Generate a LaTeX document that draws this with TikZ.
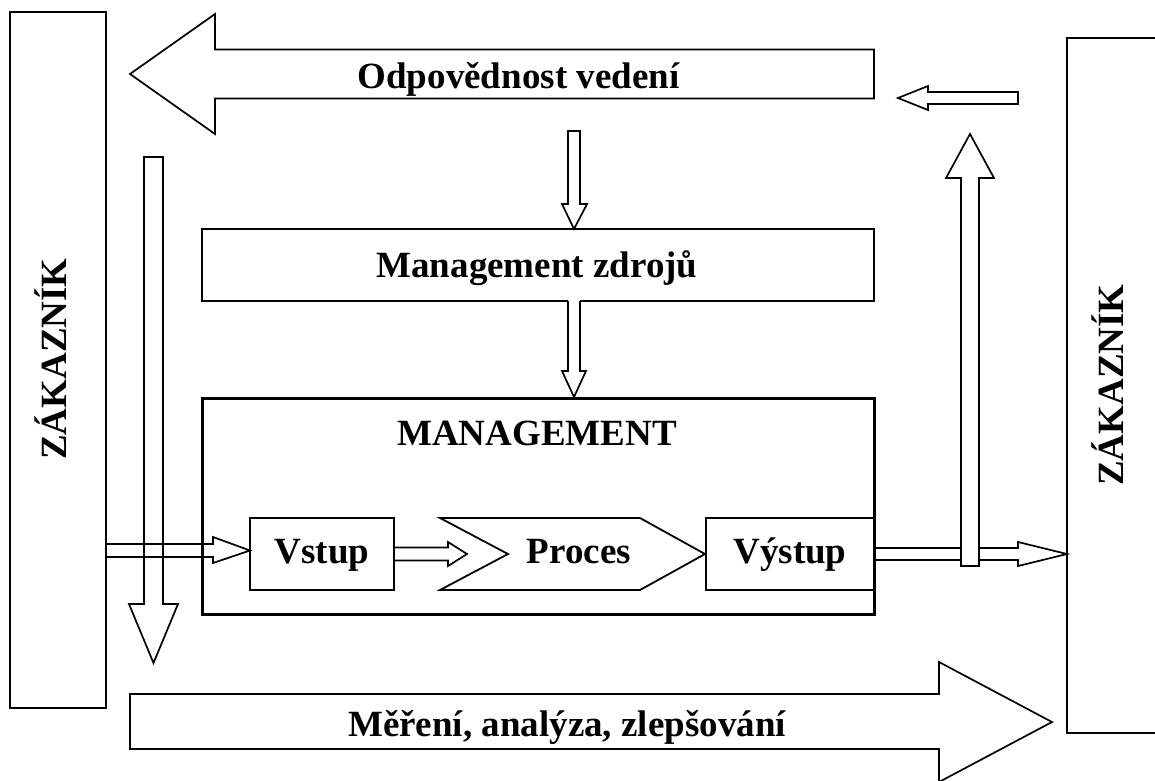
\documentclass[tikz,border=0pt]{standalone}
\usepackage{fontspec}
\setmainfont{Liberation Serif}
\begin{document}
\begin{tikzpicture}[x=1pt,y=-1pt,line join=miter,
  lbl/.style={font=\fontsize{37}{44}\selectfont\bfseries,inner sep=0pt,anchor=base},
  box/.style={draw,line width=1.8pt,inner sep=0pt},
  thickbox/.style={draw,line width=3pt,inner sep=0pt},
  barrow/.style={draw,line width=1.7pt,fill=white},
  openarrow/.style={draw,line width=1.7pt}]
\clip (0,0) rectangle (1155,780);

% customer columns
\node[box,minimum width=96pt,minimum height=696pt] (custL) at (58,360) {};
\node[box,minimum width=110pt,minimum height=695pt] (custR) at (1122,385.5) {};

% management responsibility arrow (pointing left)
\draw[barrow] (874,49.5) -- (215,49.5) -- (215,14) -- (130,74) -- (215,134)
  -- (215,98.5) -- (874,98.5) -- cycle;
% feedback arrow from the right
\draw[barrow] (1018,92) -- (928,92) -- (928,86) -- (898,98) -- (928,110)
  -- (928,104) -- (1018,104) -- cycle;

% resource management and the process frame
\node[box,minimum width=672pt,minimum height=72pt] (res) at (538,265) {};
\node[thickbox,minimum width=672pt,minimum height=216pt] (mgmt) at (538,506) {};

% responsibility -> resources
\draw[barrow] (568,131) -- (568,204) -- (562,204) -- (574,229) -- (587,204)
  -- (580,204) -- (580,131) -- cycle;
% resources -> management
\fill[white] (568,298.5) rectangle (580,372);
\draw[openarrow] (568,301) -- (568,371) -- (562,371) -- (574,397) -- (586,371)
  -- (580,371) -- (580,301);

% input, process, output
\node[box,minimum width=144pt,minimum height=72pt] (in) at (322,554) {};
\draw[line width=1.8pt] (440,518) -- (640,518) -- (705,554) -- (640,590)
  -- (440,590) -- (508,554) -- cycle;
\coordinate (proc) at (579,554);
\node[box,minimum width=168pt,minimum height=72pt] (out) at (790,554) {};

% customer requirements -> input
\draw[openarrow] (106,544) -- (213,544) -- (213,537) -- (250,550.5) -- (213,563)
  -- (213,557) -- (106,557);
% left downward arrow
\draw[openarrow] (144,157) -- (144,604) -- (129,604) -- (153.5,663) -- (178,604)
  -- (163,604) -- (163,157) -- cycle;
% input -> process
\draw[openarrow] (394,547.5) -- (448,547.5) -- (448,542) -- (467,554) -- (448,566)
  -- (448,560.5) -- (394,560.5);
% output -> customer
\draw[openarrow] (874,548) -- (1018,548) -- (1018,542) -- (1067,554) -- (1018,566)
  -- (1018,560) -- (874,560);
% upward arrow on the right
\draw[barrow] (961,566) -- (961,178) -- (946,178) -- (970,134) -- (994,178)
  -- (979,178) -- (979,566) -- cycle;

% measurement, analysis, improvement
\draw[barrow] (130,694) -- (939,694) -- (939,662) -- (1052,722) -- (939,782)
  -- (939,749) -- (130,749) -- cycle;

% labels
\node[lbl] (tResp) at (518.5,88) {Odpovědnost vedení};
\node[lbl] (tRes) at (537,277) {Management zdrojů};
\node[lbl] (tMgmt) at (537,445) {MANAGEMENT};
\node[lbl] (tIn) at (322,563) {Vstup};
\node[lbl] (tProc) at (579,563) {Proces};
\node[lbl] (tOut) at (790,563) {Výstup};
\node[lbl] (tMeas) at (567,736) {Měření, analýza, zlepšování};
\node[lbl,rotate=90] (tCustL) at (66,359) {ZÁKAZNÍK};
\node[lbl,rotate=90] (tCustR) at (1123,385) {ZÁKAZNÍK};
\end{tikzpicture}
\end{document}
